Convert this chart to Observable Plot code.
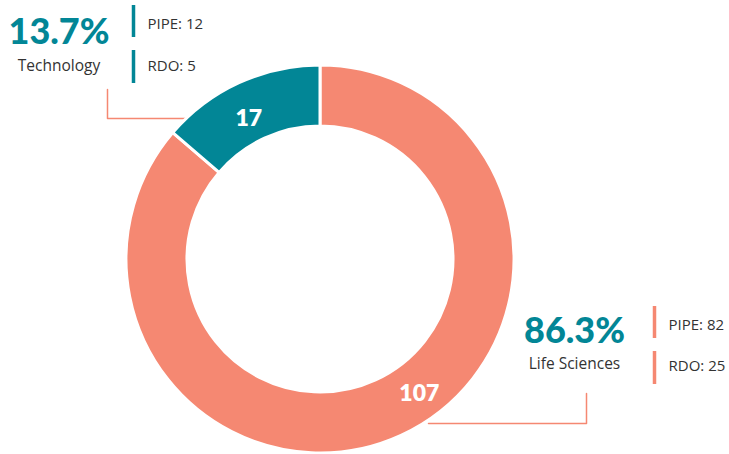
<!DOCTYPE html>
<html><head><meta charset="utf-8">
<script src="https://cdn.jsdelivr.net/npm/d3@7"></script>
<script src="https://cdn.jsdelivr.net/npm/@observablehq/plot@0.6"></script>
<style>
html,body{margin:0;padding:0;background:#fff;}
#chart svg{display:block;}
</style>
</head><body><div id="chart"></div>
<script>
// ---- data ----
const categories = ["Life Sciences", "Technology"];
const totals = [107, 17];
const pipeCounts = [82, 12];
const rdoCounts = [25, 5];

// ---- styles ----
const colors = ["#f58872", "#028696"];
const teal = "#028696";
const salmon = "#f58872";
const font = "Lato, 'Noto Sans', sans-serif";
const smallFont = "'Open Sans', 'Noto Sans', sans-serif";

// ---- layout (pixel coordinates on a 729x454 canvas) ----
const W = 729, H = 454;
const center = {x: 320, y: 259};
const outerR = 194, innerR = 133;
const layout = [
  {cx: 574, pctY: 330.5, nameY: 364, barX: 654, bar1: [306, 338], bar2: [351, 384], textX: 668, t1: 325, t2: 365.5,
   valueAngle: 143.7, valueR: 167,
   leader: [[586, 393], [586, 423], [428, 423]]},
  {cx: 58.5, pctY: 31.5, nameY: 65.5, barX: 133, bar1: [5, 37], bar2: [50, 83], textX: 147, t1: 24, t2: 65.5,
   valueAngle: -27, valueR: 158,
   leader: [[107, 89], [107, 118], [195, 118]]}
];

const sum = d3.sum(totals);
const rows = categories.map((c, i) => ({
  name: c, total: totals[i], pipe: pipeCounts[i], rdo: rdoCounts[i],
  pct: (totals[i] / sum * 100).toFixed(1) + "%", color: colors[i], ...layout[i]
}));
const valueRows = rows.map(r => {
  const a = r.valueAngle * Math.PI / 180;
  return {...r, vx: center.x + r.valueR * Math.sin(a), vy: center.y - r.valueR * Math.cos(a)};
});
const leaderPts = rows.flatMap((r, i) => r.leader.map(([x, y]) => ({x, y, k: i})));

// donut drawn from the data through the x/y scales
function donut(index, scales) {
  const cx = scales.x(center.x), cy = scales.y(center.y);
  const pie = d3.pie().sort(null).value(d => d.total)(rows);
  const arc = d3.arc().innerRadius(innerR).outerRadius(outerR);
  const g = d3.create("svg:g").attr("transform", `translate(${cx},${cy})`);
  g.selectAll("path").data(pie).join("path")
    .attr("d", arc)
    .attr("fill", d => d.data.color)
    .attr("stroke", "#fff")
    .attr("stroke-width", 3)
    .attr("stroke-linejoin", "miter");
  return g.node();
}

const chart = Plot.plot({
  width: W, height: H,
  margin: 0,
  x: {domain: [0, W], range: [0, W], axis: null},
  y: {domain: [0, H], range: [0, H], axis: null},
  style: {fontFamily: font, background: "#fff"},
  marks: [
    Plot.line(leaderPts, {x: "x", y: "y", z: "k", stroke: salmon, strokeWidth: 1.5, curve: "linear"}),
    donut,
    Plot.text(valueRows, {x: "vx", y: "vy", text: d => String(d.total), fill: "#fff", fontSize: 23, fontWeight: 800}),
    Plot.text(rows, {x: "cx", y: "pctY", text: "pct", fill: teal, fontSize: 36, fontWeight: 900}),
    Plot.text(rows, {x: "cx", y: "nameY", text: "name", fill: "#333", fontSize: 15.5, fontFamily: smallFont}),
    Plot.ruleX(rows, {x: "barX", y1: d => d.bar1[0], y2: d => d.bar1[1], stroke: "color", strokeWidth: 3.5}),
    Plot.ruleX(rows, {x: "barX", y1: d => d.bar2[0], y2: d => d.bar2[1], stroke: "color", strokeWidth: 3.5}),
    Plot.text(rows, {x: "textX", y: "t1", text: d => "PIPE: " + d.pipe, textAnchor: "start", fill: "#333", fontSize: 15, fontFamily: smallFont}),
    Plot.text(rows, {x: "textX", y: "t2", text: d => "RDO: " + d.rdo, textAnchor: "start", fill: "#333", fontSize: 15, fontFamily: smallFont})
  ]
});
document.getElementById("chart").appendChild(chart);
</script>
</body></html>
